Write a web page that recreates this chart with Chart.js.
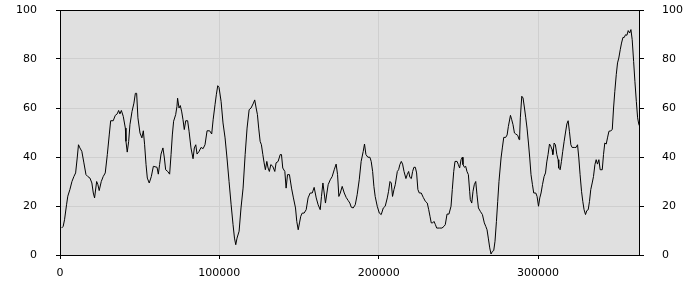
<!DOCTYPE html>
<html>
<head>
<meta charset="utf-8">
<script src="https://cdn.jsdelivr.net/npm/chart.js@4/dist/chart.umd.min.js"></script>
<style>
  html, body { margin: 0; padding: 0; background: #ffffff; }
</style>
</head>
<body>
<canvas id="chart" width="700" height="300"></canvas>
<script>
// x positions, in thousands
const xThousands = [
  1.0, 2.0, 2.85, 4.1, 4.9, 6.2, 7.5, 8.7, 9.8, 10.8, 11.6, 12.5, 13.7, 15.0, 16.3, 17.5, 18.8, 20.0, 20.9, 21.7,
  23.0, 23.8, 24.6, 25.9, 27.1, 28.4, 29.7, 30.9, 31.8, 33.4, 34.7, 35.9, 36.8, 37.6, 38.5, 39.7, 41.0, 41.4, 42.2, 43.1,
  43.9, 45.2, 46.4, 47.3, 48.1, 48.9, 50.2, 51.4, 52.3, 53.1, 54.0, 54.8, 56.0, 57.3, 58.6,
  60.9, 61.7, 62.5, 63.4, 64.6, 65.5, 66.3, 67.6, 68.8, 69.7, 70.5, 71.3, 72.6, 73.4, 73.8, 74.7, 75.5, 76.4, 77.2, 78.0,
  78.9, 80.1, 81.0, 82.2, 83.5, 84.3, 85.2, 86.0, 87.3, 88.5, 89.8, 91.0, 92.3, 93.9, 95.2, 96.1, 97.3, 98.1, 99.0, 99.8,
  101.1, 102.3, 103.6, 104.8, 106.1, 107.4, 108.6, 109.5, 110.3, 111.1, 112.4, 113.6, 114.9, 116.2, 117.4, 118.7, 119.9,
  121.4, 122.2, 123.1, 123.9, 124.7, 125.6, 126.4, 127.3, 128.1, 128.9, 129.8, 130.6, 131.4, 132.3, 133.5, 134.8, 135.6, 136.9, 138.2, 139.0,
  139.8, 141.1, 141.9, 142.8, 144.0, 145.3, 146.5, 147.8, 148.6, 149.5, 150.3, 151.1, 152.0, 153.2, 154.5, 155.7, 157.0, 158.3, 159.5, 160.8,
  162.0, 163.3, 164.1, 165.0, 165.8, 166.6, 167.5, 168.3, 169.6, 170.8, 172.1, 173.3, 174.2, 175.0, 175.9, 177.1, 178.4, 179.6, 180.9,
  181.9, 182.8, 184.0, 185.3, 186.5, 187.8, 189.0, 190.3, 191.1, 192.0, 193.2, 194.5, 195.3, 196.2, 197.0, 197.8, 199.1, 200.4, 201.6, 202.9,
  204.1, 205.4, 206.2, 207.1, 207.9, 208.7, 209.6, 210.4, 211.7, 212.5, 213.3, 214.2, 215.0, 215.9, 217.1, 217.9, 218.8, 219.6, 220.5, 221.3,
  222.1, 223.0, 223.8, 224.6, 225.5, 226.7, 228.0, 229.3, 230.5, 231.4, 232.2, 233.0, 233.9, 234.7, 235.6, 236.4, 238.1, 239.7, 241.0, 241.8,
  242.9, 244.1, 245.4, 246.2, 247.1, 247.9, 249.2, 250.0, 250.8, 251.7, 252.5, 252.9, 253.8, 254.6, 255.4, 256.3, 257.1, 257.5, 258.4, 259.2,
  260.0, 260.9, 261.7, 262.6, 263.8, 265.1, 266.3, 267.2, 268.0, 268.8, 269.7, 270.5, 271.4, 272.2, 273.0, 273.9, 274.7, 275.5, 276.8, 277.6,
  278.5, 279.7, 280.6, 281.4, 282.7, 283.5, 284.3, 285.2, 286.0, 287.3, 288.1, 288.5, 288.9, 289.8, 290.6, 291.5, 292.3, 293.1, 294.0, 294.8,
  295.6, 296.5, 297.3, 298.6, 299.4, 300.3, 301.1, 301.9, 302.8,
  303.8, 304.7, 305.5, 306.3, 307.2, 308.0, 308.8, 309.3, 310.1, 310.9, 311.8, 312.6, 313.0, 313.9, 314.7, 315.5, 316.4, 317.2, 318.1, 318.9,
  319.7, 320.6, 321.4, 322.7, 323.9, 324.8, 325.6, 326.4, 327.3, 328.1, 328.9, 329.8, 330.6, 331.5, 332.3, 333.1, 334.0, 334.8, 335.7, 336.5,
  337.3, 338.2, 339.0, 340.3, 341.1, 341.9, 342.8, 343.6, 344.5, 345.7, 346.6, 347.4, 348.2, 349.1, 349.9, 350.7, 351.6, 352.4, 353.3, 354.1,
  354.9, 355.8, 356.6, 357.5, 358.3, 359.1, 360.0, 360.8, 361.7, 362.5, 363.3, 363.9
];

const values = [
  11, 11.7, 14.4, 20.5, 24, 26.7, 30, 32, 33.5, 39.6, 45, 43.7, 42.3, 37.6, 32.8, 32, 31.4, 29.4, 25.3, 23.3,
  30, 28.7, 26.3, 30, 32, 33.5, 41, 49, 54.8, 54.8, 57, 57.6, 59, 57.6, 59, 56.6, 51.8, 46.4, 42, 46.4,
  53.2, 58.6, 62, 66, 66, 56, 49.8, 47.8, 50.7, 45, 36.9, 31.4, 29.4, 32, 36.2,
  35.8, 33, 36.9, 41.2, 43.7, 39.6, 34.8, 34.1, 33, 41, 49, 54.6, 57.3, 60.7, 64, 60, 61, 58.4, 55.2, 51.2,
  54.8, 54.8, 50.5, 43.7, 39.3, 43.7, 45, 41.2, 42.3, 43.9, 43.4, 45, 50.7, 50.7, 49.4, 55.2, 61.4, 65.4, 69.1, 68.4,
  62.7, 53.9, 47.8, 39.6, 30, 20.5, 12.4, 6.9, 4.2, 6.9, 9.7, 19.2, 27.3, 41, 51.8, 59.3, 60,
  62, 63.3, 60, 57.3, 51.8, 46.4, 45, 41, 37.6, 34.8, 38.2, 35.5, 34.1, 36.9, 36.2, 34.1, 37.6, 38.2, 41, 41,
  35.5, 34.1, 27.3, 32.8, 32.8, 27.3, 23.3, 19.2, 13.7, 10.3, 13.1, 15.8, 17.1, 17.1, 18.5, 23.3, 25.3, 25.3, 27.6, 23.3,
  20.5, 18.5, 23.9, 29.4, 25.3, 21.2, 25.3, 28.7, 30.7, 32, 34.8, 37.1, 32.8, 23.9, 25.3, 28, 25.3, 23.5, 22.2,
  21.2, 19.5, 19.2, 20.5, 24.6, 30.7, 38.2, 42.3, 45.3, 41, 39.9, 39.9, 38.2, 34.1, 28, 23.9, 19.9, 17.1, 16.5, 19.2,
  19.9, 23.3, 26, 30, 29.4, 23.9, 26.7, 28.7, 34.1, 34.8, 36.9, 38.2, 37.1, 34.1, 31.2, 32.8, 34.1, 31.7, 31.2, 34.1,
  35.8, 35.8, 33.5, 26.7, 25.3, 25.3, 23.5, 21.9, 21.2, 18.5, 15.8, 13.1, 13.1, 13.7, 12.4, 11, 11, 11, 11.7, 12.4,
  16.7, 16.7, 19.9, 26.7, 34.1, 38.2, 38.2, 36.9, 35.5, 38.9, 39.9, 36.9, 35.8, 36.2, 34.1, 32.8, 26, 22.6, 21.2, 26,
  28.7, 30, 24.6, 19.2, 17.8, 16.5, 13.1, 11.7, 10.3, 6.9, 2.9, 0.4, 1.5, 1.8, 5.6, 13.7, 21.9, 30, 39.6, 43.7,
  48, 48, 49, 52.5, 57, 55.2, 53.2, 49.8, 49.4, 48.8, 47.1, 49, 56, 64.8, 64.1, 60, 56, 51.8, 45.7, 39.6,
  32.8, 28.7, 25.3, 25.3, 23.9, 19.9, 23.3, 25.3, 28.7,
  32, 33.5, 38, 41, 45.3, 44.4, 43, 41, 45.7, 45, 41, 38.9, 35.5, 34.8, 38.2, 42.3, 46.4, 49.8, 53.5, 54.8,
  50.5, 45, 43.9, 43.9, 43.9, 45, 39.6, 32.8, 26, 21.9, 18.5, 16.5, 18.1, 18.5, 21.9, 26.7, 29.4, 32, 36.9, 38.9,
  37.1, 38.9, 34.8, 34.8, 41, 45.7, 45.3, 47.8, 50.5, 50.7, 51.2, 60, 66.8, 73.6, 78.4, 80.4, 83.8, 86.5, 88.8, 88.8,
  89.9, 89.7, 91.6, 90.6, 92, 87.9, 79, 70.9, 62.7, 56, 53.2, 52.5
];

const xTicks = [0, 100000, 200000, 300000];
const yTicks = [0, 20, 40, 60, 80, 100];
const xMax = 364000;

const points = xThousands.map((x, i) => ({ x: x * 1000, y: values[i] }));

const FONT = { family: 'DejaVu Sans', size: 11 };

// fond gris de la zone de tracé + cadre noir
const plotFrame = {
  id: 'plotFrame',
  beforeDraw(chart) {
    const { ctx, chartArea: a } = chart;
    ctx.save();
    ctx.fillStyle = '#e0e0e0';
    ctx.fillRect(a.left, a.top, a.right - a.left, a.bottom - a.top);
    ctx.restore();
  },
  afterDraw(chart) {
    const { ctx, chartArea: a } = chart;
    ctx.save();
    ctx.strokeStyle = '#000000';
    ctx.lineWidth = 1;
    ctx.strokeRect(Math.round(a.left) + 0.5, Math.round(a.top) + 0.5,
      Math.round(a.right - a.left) - 1, Math.round(a.bottom - a.top));
    ctx.restore();
  }
};

function yAxis(position, onArea) {
  return {
    type: 'linear',
    position: position,
    min: 0,
    max: 100,
    afterBuildTicks: s => { s.ticks = yTicks.map(v => ({ value: v })); },
    afterFit: s => {
      s.width = 60;
      s.paddingTop = 0;
      s.paddingBottom = 0;
    },
    border: { display: false },
    grid: {
      drawOnChartArea: onArea,
      color: '#cfcfcf',
      tickColor: '#000000',
      tickLength: 4
    },
    ticks: {
      color: '#000000',
      font: FONT,
      padding: position === 'left' ? 19 : 18
    }
  };
}

new Chart(document.getElementById('chart'), {
  type: 'line',
  data: {
    datasets: [{
      data: points,
      borderColor: '#000000',
      borderWidth: 1,
      pointRadius: 0,
      tension: 0,
      fill: false
    }]
  },
  plugins: [plotFrame],
  options: {
    responsive: false,
    animation: false,
    layout: { padding: { top: 10, left: 0, right: 0, bottom: 0 } },
    plugins: {
      legend: { display: false },
      tooltip: { enabled: false }
    },
    scales: {
      x: {
        type: 'linear',
        min: 0,
        max: xMax,
        afterBuildTicks: s => { s.ticks = xTicks.map(v => ({ value: v })); },
        afterFit: s => {
          s.height = 45;
          s.paddingLeft = 0;
          s.paddingRight = 0;
        },
        border: { display: false },
        grid: {
          color: '#cfcfcf',
          tickColor: '#000000',
          tickLength: 4
        },
        ticks: {
          color: '#000000',
          font: FONT,
          padding: 8,
          maxRotation: 0,
          callback: v => String(v)
        }
      },
      y: yAxis('left', true),
      y2: yAxis('right', false)
    }
  }
});
</script>
</body>
</html>
